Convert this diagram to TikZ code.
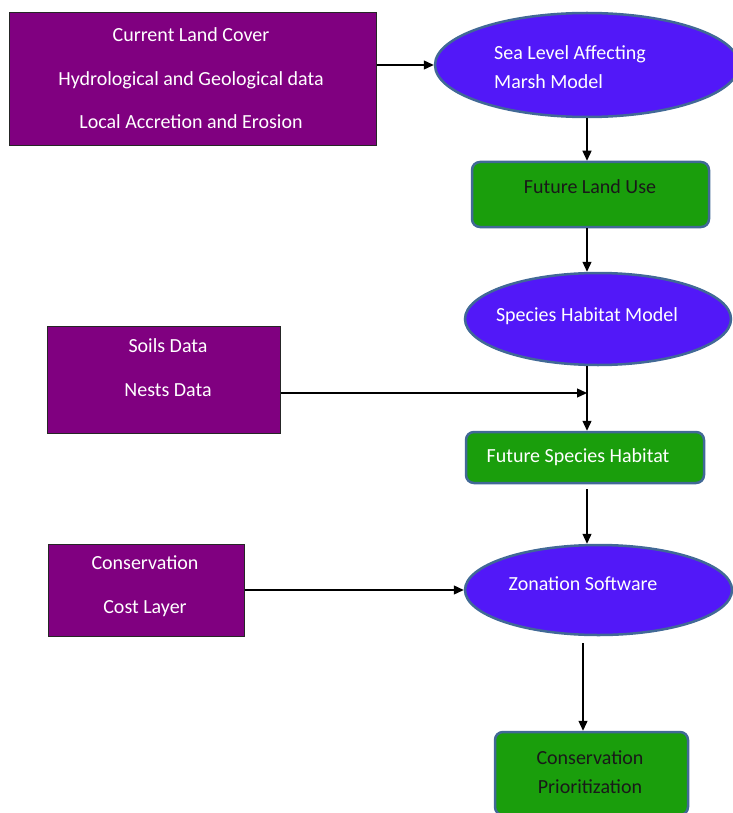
\documentclass[tikz,border=0pt]{standalone}
\usepackage{fontspec}
\setmainfont{Carlito}
\usepackage{tikz}
\usepackage{xcolor}
\usetikzlibrary{positioning,shapes,arrows.meta}

\definecolor{datapurple}{RGB}{128,0,128}
\definecolor{modelblue}{RGB}{82,24,248}
\definecolor{outputgreen}{RGB}{26,158,12}
\definecolor{edgeblue}{RGB}{65,105,150}

\begin{document}
\begin{tikzpicture}[x=1pt,y=-1pt]
\tikzstyle{every node}+=[inner sep=0pt]
\tikzstyle{data}=[draw=black!85,line width=1pt,fill=datapurple,rectangle]
\tikzstyle{model}=[draw=edgeblue,line width=2.5pt,fill=modelblue,ellipse]
\tikzstyle{output}=[draw=edgeblue,line width=2.5pt,fill=outputgreen,rectangle,rounded corners=8pt]
\tikzstyle{label}=[text=white,font=\fontsize{20}{29}\selectfont]
\tikzstyle{flow}=[black,line width=1.3pt,-{Triangle[length=10pt,width=9pt]}]
\useasboundingbox (0,0) rectangle (732,813);
% input data
\node[data,minimum width=367pt,minimum height=133pt] (cover) at (192.5,79.5) {};
\node[label,align=center,font=\fontsize{20}{43.5}\selectfont] (cover-txt) at (191,78.5)
  {Current Land Cover\\Hydrological and Geological data\\Local Accretion and Erosion};
\node[data,minimum width=233pt,minimum height=107pt] (soils) at (163.5,379.5) {};
\node[label,align=center,font=\fontsize{20}{44}\selectfont] (soils-txt) at (168,368)
  {Soils Data\\Nests Data};
\node[data,minimum width=196pt,minimum height=92pt] (cost) at (146,590) {};
\node[label,align=center,font=\fontsize{20}{44}\selectfont] (cost-txt) at (145,586)
  {Conservation\\Cost Layer};
% models
\node[model,minimum width=304pt,minimum height=104pt] (sea) at (587,65) {};
\node[label,align=left] (sea-txt) at (570,67.5) {Sea Level Affecting\\Marsh Model};
\node[model,minimum width=266pt,minimum height=92pt] (habitat) at (598,319) {};
\node[label] (habitat-txt) at (587,316) {Species Habitat Model};
\node[model,minimum width=267pt,minimum height=90pt] (zonation) at (598.5,590) {};
\node[label] (zonation-txt) at (583,584) {Zonation Software};
% outputs
\node[output,minimum width=237pt,minimum height=65pt] (landuse) at (590.5,194.5) {};
\node[label,text=black!90] (landuse-txt) at (590,187) {Future Land Use};
\node[output,minimum width=238pt,minimum height=51pt] (future) at (585,457.5) {};
\node[label] (future-txt) at (578,457) {Future Species Habitat};
\node[output,minimum width=193pt,minimum height=83pt] (priority) at (591.5,773.5) {};
\node[label,text=black!90,align=center] (priority-txt) at (590,772.5)
  {Conservation\\Prioritization};
% connectors
\coordinate (join) at (587,393);
\draw[flow] (cover.east |- sea.west) -- (sea.west);
\draw[flow] (sea.south) -- (sea.south |- landuse.north);
\draw[flow] (sea.south |- landuse.south) -- (sea.south |- habitat.north);
\draw[flow] (sea.south |- habitat.south) -- (sea.south |- future.north);
\draw[flow] (soils.east |- join) -- (join);
\draw[flow] ([yshift=-5pt]sea.south |- future.south) -- (sea.south |- zonation.north);
\draw[flow] (cost.east) -- (zonation.west);
\draw[flow] ([xshift=-15.5pt,yshift=-7pt]zonation.south) -- ([xshift=-15.5pt]zonation.south |- priority.north);
\end{tikzpicture}
\end{document}
